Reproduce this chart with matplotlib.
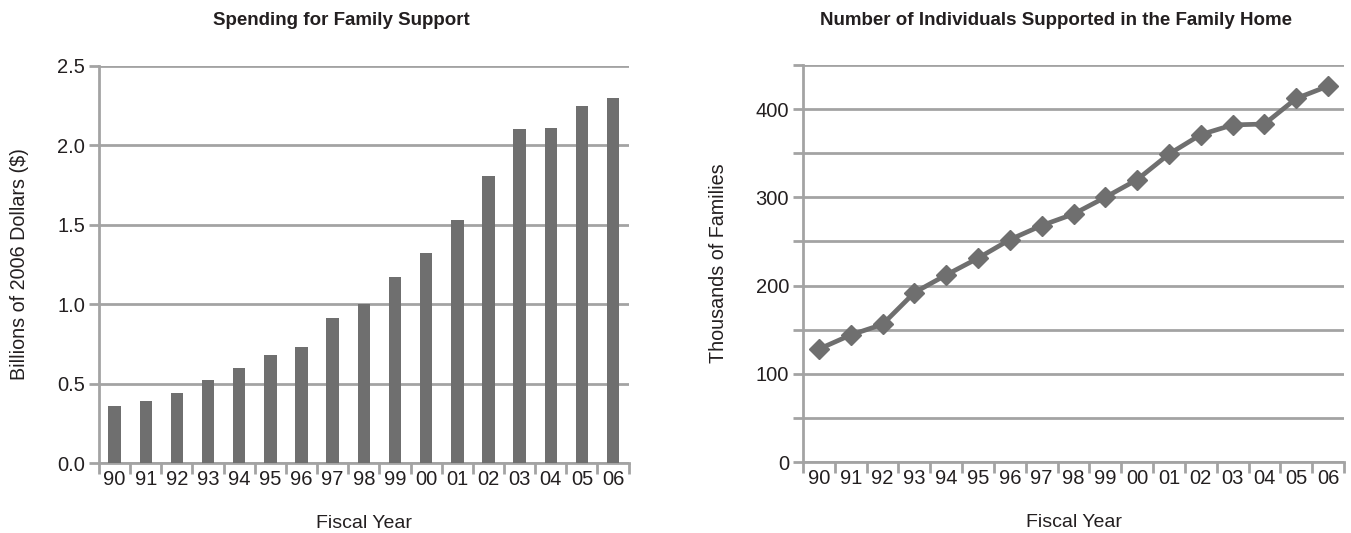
import matplotlib
matplotlib.use("Agg")
import matplotlib.pyplot as plt
from matplotlib.ticker import MultipleLocator, FixedLocator, NullFormatter

plt.rcParams['font.family'] = ['Liberation Sans', 'DejaVu Sans']

years = ["90", "91", "92", "93", "94", "95", "96", "97", "98",
         "99", "00", "01", "02", "03", "04", "05", "06"]
spending = [0.36, 0.39, 0.44, 0.52, 0.60, 0.68, 0.73, 0.91, 1.00,
            1.17, 1.32, 1.53, 1.81, 2.10, 2.11, 2.25, 2.30]
families = [128, 144, 156, 192, 212, 231, 252, 268, 281,
            300, 320, 349, 371, 382, 383, 412, 426]

GRID = "#a3a3a3"
MARK = "#6f6f6f"
TEXT = "#231f20"

fig = plt.figure(figsize=(13.51, 5.33), dpi=100)
ax1 = fig.add_axes([0.0733, 0.1313, 0.392, 0.745])
ax2 = fig.add_axes([0.5944, 0.1332, 0.4004, 0.745])


def style_axes(ax):
    for side in ("top", "right"):
        ax.spines[side].set_visible(False)
    for side in ("left", "bottom"):
        ax.spines[side].set_color(GRID)
        ax.spines[side].set_linewidth(2)
    ax.yaxis.grid(True, color=GRID, linewidth=2)
    ax.set_axisbelow(True)
    ax.tick_params(axis="y", which="both", length=7, width=2, color=GRID,
                   labelsize=14.5, labelcolor=TEXT, pad=3)
    n = len(years)
    ax.set_xlim(-0.5, n - 0.5)
    ax.xaxis.set_major_locator(FixedLocator(range(n)))
    ax.set_xticklabels(years)
    ax.xaxis.set_minor_locator(FixedLocator([i - 0.5 for i in range(n + 1)]))
    ax.xaxis.set_minor_formatter(NullFormatter())
    ax.tick_params(axis="x", which="major", length=0, labelsize=14.5,
                   labelcolor=TEXT, pad=5)
    ax.tick_params(axis="x", which="minor", length=8, width=2, color=GRID)


# Spending bars
x = range(len(years))
ax1.bar(x, spending, width=0.4, color=MARK, zorder=3)
ax1.set_ylim(0, 2.5)
ax1.yaxis.set_major_locator(MultipleLocator(0.5))
ax1.yaxis.set_major_formatter(plt.FuncFormatter(lambda v, p: f"{v:.1f}"))
style_axes(ax1)
ax1.set_ylabel("Billions of 2006 Dollars ($)", fontsize=14.2, color=TEXT, labelpad=20)
ax1.set_xlabel("Fiscal Year", fontsize=14, color=TEXT, labelpad=19)

# Families line
ax2.plot(x, families, color=MARK, linewidth=3.4, marker="D", markersize=10.5,
         markerfacecolor=MARK, markeredgecolor=MARK, zorder=3, clip_on=False)
ax2.set_ylim(0, 450)
ax2.yaxis.set_major_locator(MultipleLocator(100))
ax2.yaxis.set_minor_locator(MultipleLocator(50))
ax2.yaxis.grid(True, which="minor", color=GRID, linewidth=2)
style_axes(ax2)
ax2.set_ylabel("Thousands of Families", fontsize=14.2, color=TEXT, labelpad=20)
ax2.set_xlabel("Fiscal Year", fontsize=14, color=TEXT, labelpad=19)

fig.text(0.253, 0.962, "Spending for Family Support", ha="center", va="center",
         fontsize=13.5, fontweight="bold", color=TEXT)
fig.text(0.782, 0.962, "Number of Individuals Supported in the Family Home",
         ha="center", va="center", fontsize=13.5, fontweight="bold", color=TEXT)

fig.savefig("out.png", dpi=100)
